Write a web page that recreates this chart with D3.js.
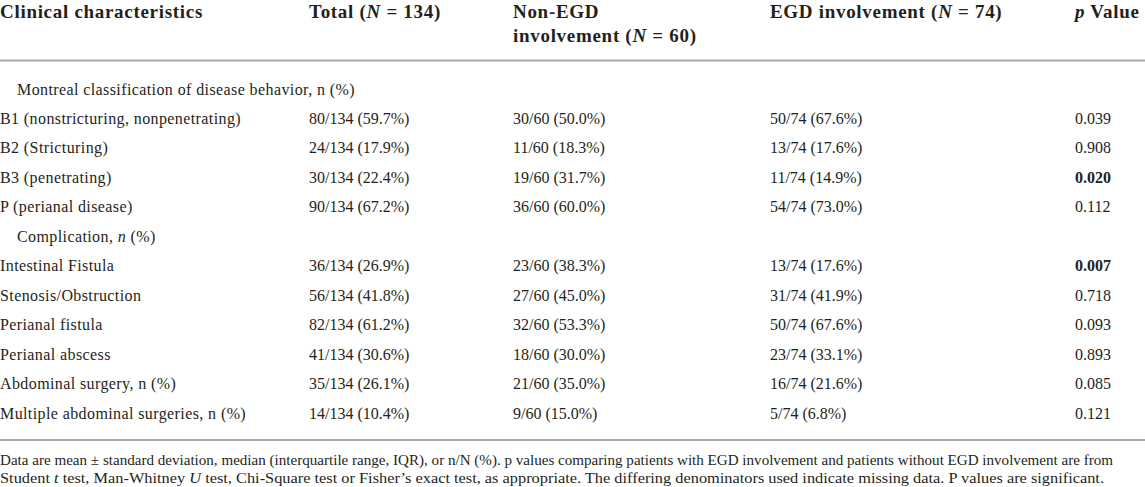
<!DOCTYPE html>
<html>
<head>
<meta charset="utf-8">
<script src="https://cdn.jsdelivr.net/npm/d3@7"></script>
<style>
  body { margin: 0; background: #fff; }
  svg text { font-family: "Liberation Serif", "Times New Roman", "DejaVu Serif", serif; fill: #231f20; }
</style>
</head>
<body>
<div id="table"></div>
<script>
"use strict";

// table content
var columnKeys = ["label", "total", "nonEgd", "egd", "p"];
var rowLabels = [
  "Montreal classification of disease behavior, n (%)",
  "B1 (nonstricturing, nonpenetrating)",
  "B2 (Stricturing)",
  "B3 (penetrating)",
  "P (perianal disease)",
  "Complication, <i>n</i> (%)",
  "Intestinal Fistula",
  "Stenosis/Obstruction",
  "Perianal fistula",
  "Perianal abscess",
  "Abdominal surgery, n (%)",
  "Multiple abdominal surgeries, n (%)"
];
var sectionRows = [0, 5];   // sub-headings, indented and empty
var totalValues = ["", "80/134 (59.7%)", "24/134 (17.9%)", "30/134 (22.4%)", "90/134 (67.2%)", "",
  "36/134 (26.9%)", "56/134 (41.8%)", "82/134 (61.2%)", "41/134 (30.6%)", "35/134 (26.1%)", "14/134 (10.4%)"];
var nonEgdValues = ["", "30/60 (50.0%)", "11/60 (18.3%)", "19/60 (31.7%)", "36/60 (60.0%)", "",
  "23/60 (38.3%)", "27/60 (45.0%)", "32/60 (53.3%)", "18/60 (30.0%)", "21/60 (35.0%)", "9/60 (15.0%)"];
var egdValues = ["", "50/74 (67.6%)", "13/74 (17.6%)", "11/74 (14.9%)", "54/74 (73.0%)", "",
  "13/74 (17.6%)", "31/74 (41.9%)", "50/74 (67.6%)", "23/74 (33.1%)", "16/74 (21.6%)", "5/74 (6.8%)"];
var pValues = ["", "0.039", "0.908", "0.020", "0.112", "",
  "0.007", "0.718", "0.093", "0.893", "0.085", "0.121"];
var significantP = ["0.020", "0.007"];

// header lines per column, <i> marks italic
var headerLines = [
  ["Clinical characteristics"],
  ["Total (<i>N</i> = 134)"],
  ["Non-EGD", "involvement (<i>N</i> = 60)"],
  ["EGD involvement (<i>N</i> = 74)"],
  ["<i>p</i> Value"]
];
var footnoteLines = [
  "Data are mean ± standard deviation, median (interquartile range, IQR), or n/N (%). p values comparing patients with EGD involvement and patients without EGD involvement are from",
  "Student <i>t</i> test, Man-Whitney <i>U</i> test, Chi-Square test or Fisher’s exact test, as appropriate. The differing denominators used indicate missing data. P values are significant."
];

var W = 1145, H = 487;

var svg = d3.select("#table").append("svg")
    .attr("width", W)
    .attr("height", H);

// column positions
var x = d3.scaleOrdinal()
    .domain(columnKeys)
    .range([0, 309, 513, 770, 1075]);

// row centres
var y = d3.scalePoint()
    .domain(d3.range(rowLabels.length))
    .range([89, 413]);

// splits "a <i>b</i> c" into tspans
function richText(sel, str) {
  var parts = str.split(/(<i>.*?<\/i>)/);
  parts.forEach(function(p) {
    if (p === "") return;
    var it = p.startsWith("<i>");
    sel.append("tspan")
      .style("font-style", it ? "italic" : null)
      .text(it ? p.replace(/<\/?i>/g, "") : p);
  });
}

// header
var header = svg.append("g").attr("class", "header");
headerLines.forEach(function(lines, ci) {
  lines.forEach(function(line, li) {
    var t = header.append("text")
      .attr("x", x(columnKeys[ci]))
      .attr("y", 18 + li * 23.5)
      .style("font-size", "19px")
      .style("letter-spacing", "0.7px")
      .style("font-weight", "bold");
    richText(t, line);
  });
});

// rules
[60.5, 440].forEach(function(ry) {
  svg.append("line")
    .attr("x1", 0).attr("x2", W)
    .attr("y1", ry).attr("y2", ry)
    .attr("stroke", "#a8a8a8").attr("stroke-width", 2);
});

// body rows
var rows = svg.append("g").attr("class", "rows")
  .selectAll("g")
  .data(rowLabels.map(function(d, i) {
    return { i: i, label: d, total: totalValues[i], nonEgd: nonEgdValues[i], egd: egdValues[i], p: pValues[i] };
  }))
  .join("g")
    .attr("transform", d => "translate(0," + (y(d.i) + 5.5) + ")");

rows.each(function(d) {
  var g = d3.select(this);
  var section = sectionRows.includes(d.i);
  columnKeys.forEach(function(k) {
    if (d[k] === "") return;
    var t = g.append("text")
      .attr("x", x(k) + (k === "label" && section ? 17 : 0))
      .style("font-size", "16px")
      .style("letter-spacing", k === "label" ? "0.4px" : null)
      .style("font-weight", (k === "p" && significantP.includes(d.p)) ? "bold" : null);
    richText(t, d[k]);
  });
});

// footnote
var foot = svg.append("g").attr("class", "footnote");
footnoteLines.forEach(function(line, li) {
  var t = foot.append("text")
    .attr("x", 0)
    .attr("y", 465 + li * 18)
    .style("font-size", "14px")
    .attr("textLength", li === 0 ? 1113 : 1104)
    .attr("lengthAdjust", "spacingAndGlyphs");
  richText(t, line);
});
</script>
</body>
</html>
